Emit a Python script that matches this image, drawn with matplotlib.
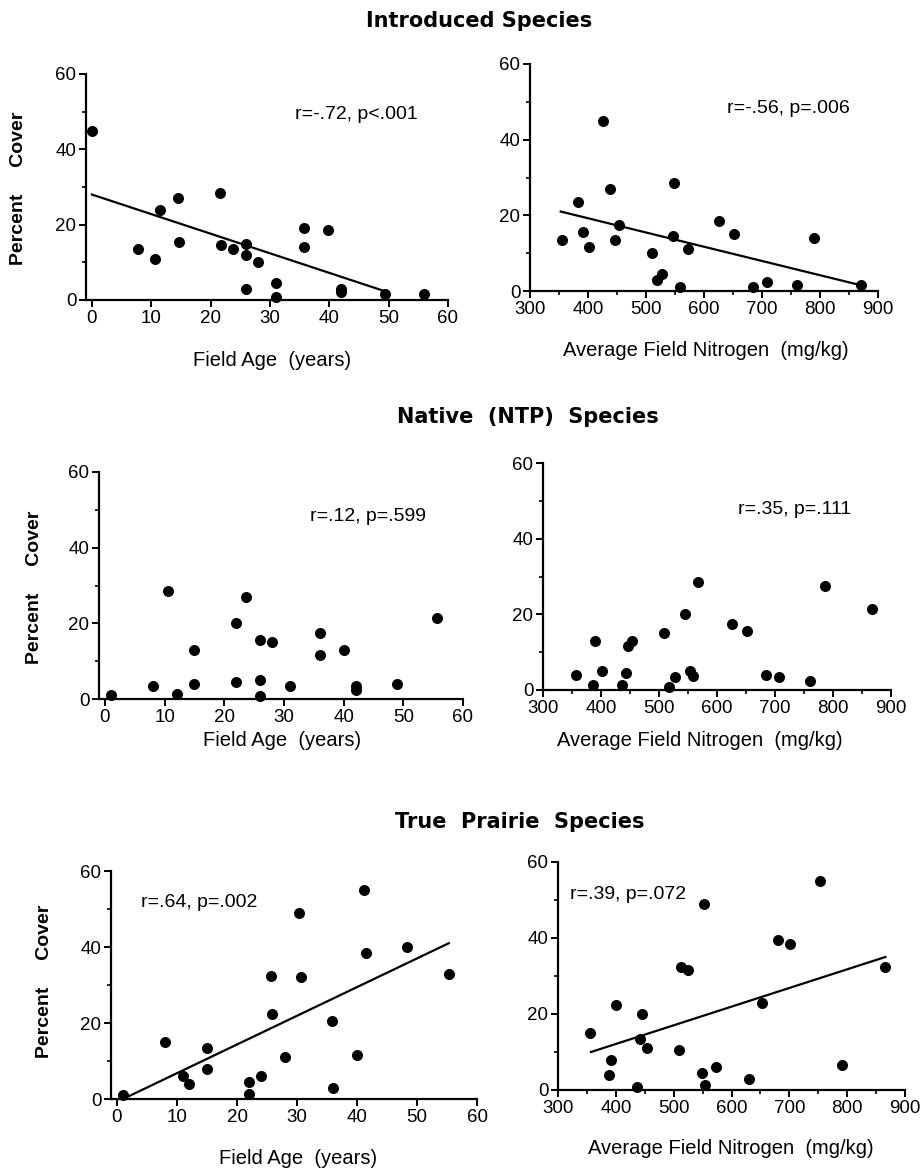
import matplotlib
matplotlib.use("Agg")
import matplotlib.pyplot as plt
from matplotlib.ticker import MultipleLocator

plt.rcParams['font.family'] = ['Liberation Sans', 'DejaVu Sans']

# -------------------------------------------------------------
# Data: percent cover vs field age and vs soil nitrogen
# -------------------------------------------------------------
intro_age_x = [0, 7.7, 10.7, 11.5, 14.5, 14.7, 21.5, 21.8, 23.8, 25.9, 25.9,
               26, 27.9, 31, 31, 35.7, 35.8, 39.8, 42, 42, 49.3, 56]
intro_age_y = [45, 13.5, 11, 24, 27, 15.5, 28.5, 14.5, 13.5, 15, 12,
               3, 10, 4.5, 0.8, 19, 14, 18.5, 3, 2, 1.5, 1.5]
intro_age_fit_x = [0, 50]
intro_age_fit_y = [28, 2]

intro_n_x = [356, 383, 391, 402, 426, 438, 446, 453, 511, 519, 528,
             548, 547, 559, 572, 626, 652, 685, 708, 761, 789, 871]
intro_n_y = [13.5, 23.5, 15.5, 11.5, 45, 27, 13.5, 17.5, 10, 3, 4.5,
             28.5, 14.5, 1, 11, 18.5, 15, 1, 2.5, 1.5, 14, 1.5]
intro_n_fit_x = [353, 871]
intro_n_fit_y = [21, 1.5]

native_age_x = [1, 8, 10.5, 12, 15, 15, 22, 22, 23.7, 26, 26,
                26, 28, 31, 36, 36, 40, 42, 42, 49, 55.7]
native_age_y = [1, 3.5, 28.5, 1.2, 13, 4, 20, 4.5, 27, 15.5, 5,
                0.8, 15, 3.5, 17.5, 11.5, 13, 3.5, 2.5, 4, 21.5]

native_n_x = [357, 387, 390, 402, 436, 443, 446, 454, 508, 518, 528,
              545, 553, 559, 568, 626, 652, 684, 707, 761, 787, 867]
native_n_y = [4, 1.2, 13, 5, 1.2, 4.5, 11.5, 13, 15, 0.8, 3.5,
              20, 5, 3.8, 28.5, 17.5, 15.5, 4, 3.5, 2.5, 27.5, 21.5]

prairie_age_x = [1, 8, 11, 12, 15, 15, 22, 22, 24, 25.6, 25.8,
                 28, 30.3, 30.7, 35.8, 36, 40, 41.2, 41.5, 48.3, 55.3]
prairie_age_y = [1, 15, 6, 4, 13.5, 8, 4.5, 1.3, 6, 32.5, 22.5,
                 11, 49, 32, 20.5, 3, 11.5, 55, 38.5, 40, 33]
prairie_age_fit_x = [1, 55.3]
prairie_age_fit_y = [0, 41]

prairie_n_x = [356, 388, 392, 400, 436, 442, 446, 454, 510, 512, 525,
               549, 552, 554, 574, 630, 652, 680, 702, 753, 791, 866]
prairie_n_y = [15, 4, 8, 22.5, 0.8, 13.5, 20, 11, 10.5, 32.5, 31.5,
               4.5, 49, 1.2, 6, 3, 23, 39.5, 38.5, 55, 6.5, 32.5]
prairie_n_fit_x = [357, 866]
prairie_n_fit_y = [10, 35]

group_titles = ["Introduced Species", "Native  (NTP)  Species", "True  Prairie  Species"]
stats = ["r=-.72, p<.001", "r=-.56, p=.006",
         "r=.12, p=.599", "r=.35, p=.111",
         "r=.64, p=.002", "r=.39, p=.072"]
age_label = "Field Age  (years)"
n_label = "Average Field Nitrogen  (mg/kg)"
y_label = "Percent     Cover"

# -------------------------------------------------------------
# Layout (pixel boxes: left, right, top, bottom)
# -------------------------------------------------------------
W, H = 924, 1170
fig = plt.figure(figsize=(W / 100, H / 100), dpi=100)


def px_axes(l, r, t, b):
    return fig.add_axes([l / W, 1 - b / H, (r - l) / W, (b - t) / H])


def fig_text(x, y, s, va='center', **kw):
    fig.text(x / W, 1 - y / H, s, ha='center', va=va, **kw)


def style(ax, kind):
    for s in ['top', 'right']:
        ax.spines[s].set_visible(False)
    for s in ['left', 'bottom']:
        ax.spines[s].set_linewidth(1.6)
    ax.set_ylim(0, 60)
    ax.yaxis.set_major_locator(MultipleLocator(20))
    ax.yaxis.set_minor_locator(MultipleLocator(10))
    if kind == 'age':
        ax.set_xlim(-1, 60)
        ax.xaxis.set_major_locator(MultipleLocator(10))
    else:
        ax.set_xlim(300, 900)
        ax.xaxis.set_major_locator(MultipleLocator(100))
        ax.xaxis.set_minor_locator(MultipleLocator(50))
    ax.tick_params(which='major', direction='out', length=5, width=1.4,
                   labelsize=13.5, pad=2)
    ax.tick_params(which='minor', direction='out', length=3, width=1.2)
    ax.patch.set_alpha(0)


panels = [
    (86, 448, 74, 300, 'age', intro_age_x, intro_age_y, intro_age_fit_x, intro_age_fit_y, (0.577, 0.82)),
    (530, 878, 64, 291, 'n', intro_n_x, intro_n_y, intro_n_fit_x, intro_n_fit_y, (0.565, 0.806)),
    (99, 463, 472, 699, 'age', native_age_x, native_age_y, None, None, (0.579, 0.802)),
    (543, 891, 463, 690, 'n', native_n_x, native_n_y, None, None, (0.561, 0.794)),
    (111, 477, 871, 1099, 'age', prairie_age_x, prairie_age_y, prairie_age_fit_x, prairie_age_fit_y, (0.083, 0.86)),
    (558, 905, 862, 1090, 'n', prairie_n_x, prairie_n_y, prairie_n_fit_x, prairie_n_fit_y, (0.035, 0.859)),
]

for i, (l, r, t, b, kind, xs, ys, fx, fy, tpos) in enumerate(panels):
    ax = px_axes(l, r, t, b)
    style(ax, kind)
    ax.scatter(xs, ys, s=48, color='black', zorder=3, clip_on=False)
    if fx is not None:
        ax.plot(fx, fy, color='black', lw=1.6, clip_on=False)
    ax.text(tpos[0], tpos[1], stats[i], transform=ax.transAxes,
            fontsize=14, ha='left', va='center')

# -------------------------------------------------------------
# Group titles (wide bold face) and axis labels
# -------------------------------------------------------------
title_kw = dict(fontsize=15, fontweight='bold', family='DejaVu Sans', va='baseline')
fig_text(479, 27, group_titles[0], **title_kw)
fig_text(528, 423, group_titles[1], **title_kw)
fig_text(520, 828, group_titles[2], **title_kw)

fig_text(272, 360, age_label, fontsize=14.5)
fig_text(706, 350, n_label, fontsize=14.5)
fig_text(282, 741, age_label, fontsize=14.5)
fig_text(700, 741, n_label, fontsize=14.5)
fig_text(298, 1158, age_label, fontsize=14.5)
fig_text(731, 1148, n_label, fontsize=14.5)

fig_text(19, 188, y_label, fontsize=14, fontweight='bold', rotation=90)
fig_text(35, 587, y_label, fontsize=14, fontweight='bold', rotation=90)
fig_text(45, 981, y_label, fontsize=14, fontweight='bold', rotation=90)

fig.savefig("out.png", dpi=100, facecolor='white')
